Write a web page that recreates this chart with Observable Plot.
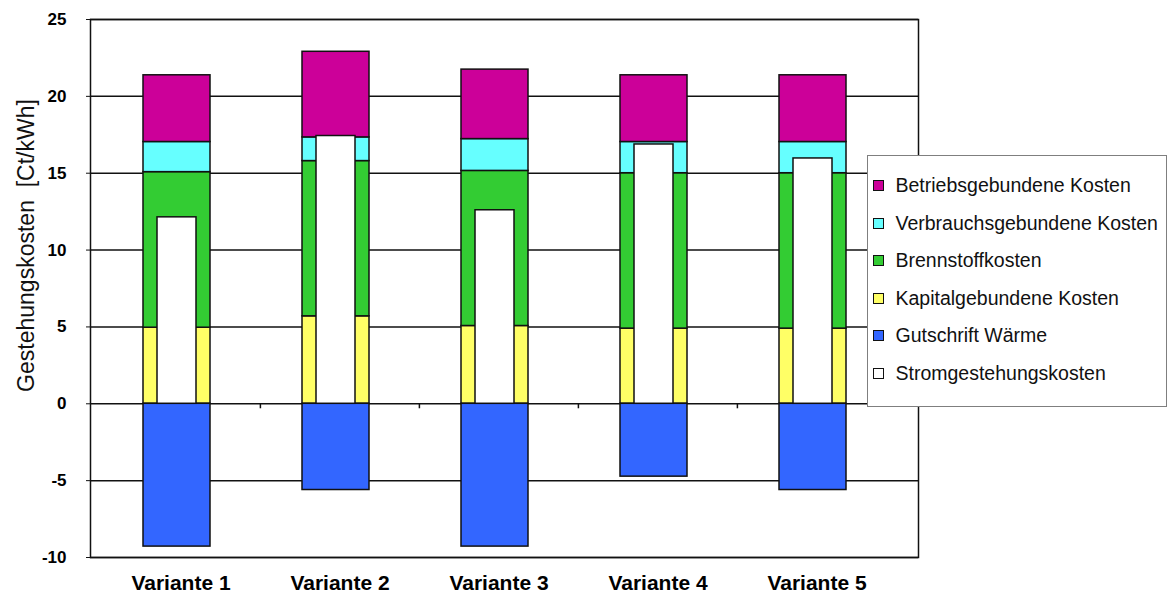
<!DOCTYPE html>
<html>
<head>
<meta charset="utf-8">
<script src="https://cdn.jsdelivr.net/npm/d3@7"></script>
<script src="https://cdn.jsdelivr.net/npm/@observablehq/plot@0.6"></script>
<style>
  body { margin: 0; background: #fff; font-family: "Liberation Sans", Arial, sans-serif; }
  #chart { position: relative; width: 1169px; height: 594px; }
  #legend {
    position: absolute; left: 867px; top: 155px; width: 298px; height: 250px;
    border: 1.5px solid #7f7f7f; background: #fff;
  }
  .item { position: absolute; left: 5px; height: 20px; display: flex; align-items: center;
          font-size: 19.5px; color: #111; white-space: nowrap; }
  .sw { width: 9px; height: 9px; border: 1px solid #111; margin-right: 11.5px; flex: none; }
</style>
</head>
<body>
<div id="chart"></div>
<script>
// Cost components per variant, in Ct/kWh
const categories = ["Variante 1", "Variante 2", "Variante 3", "Variante 4", "Variante 5"];
const kapital    = [4.95, 5.69, 5.06, 4.89, 4.89];
const brennstoff = [10.12, 10.10, 10.09, 10.11, 10.11];
const verbrauch  = [1.96, 1.54, 2.07, 2.03, 2.03];
const betrieb    = [4.34, 5.57, 4.52, 4.34, 4.34];
const gutschrift = [-9.29, -5.61, -9.29, -4.74, -5.61];
const strom      = [12.13, 17.42, 12.59, 16.87, 15.96];
const yTicks = [-10, -5, 0, 5, 10, 15, 20, 25];

const seriesNames = [
  "Betriebsgebundene Kosten",
  "Verbrauchsgebundene Kosten",
  "Brennstoffkosten",
  "Kapitalgebundene Kosten",
  "Gutschrift Wärme",
  "Stromgestehungskosten"
];
const seriesColors = ["#cc0099", "#66ffff", "#33cc33", "#ffff66", "#3366ff", "#ffffff"];

// Stacked components, bottom to top
const stackOrder = [
  "Kapitalgebundene Kosten", "Brennstoffkosten", "Verbrauchsgebundene Kosten",
  "Betriebsgebundene Kosten", "Gutschrift Wärme"
];
const stackValues = [kapital, brennstoff, verbrauch, betrieb, gutschrift];
const stacked = [];
stackOrder.forEach((s, k) => {
  categories.forEach((c, i) => stacked.push({variante: c, serie: s, value: stackValues[k][i]}));
});
const stromRows = categories.map((c, i) => ({variante: c, value: strom[i]}));

const xRange = [100, 896];
const step = (xRange[1] - xRange[0]) / categories.length;
const barShift = -4;

const chart = Plot.plot({
  width: 1169,
  height: 594,
  marginLeft: 90,
  marginRight: 251,
  marginTop: 19,
  marginBottom: 37,
  style: {fontFamily: "'Liberation Sans', Arial, sans-serif", color: "#000", background: "#fff"},
  x: {domain: categories, range: xRange, paddingInner: 0.58, paddingOuter: 0.29, axis: null},
  y: {domain: [-10, 25], axis: null},
  color: {domain: seriesNames, range: seriesColors},
  marks: [
    Plot.ruleY(yTicks, {stroke: "#111", strokeWidth: 1.5}),
    Plot.frame({stroke: "#111", strokeWidth: 1.5}),
    Plot.barY(stacked, {
      x: "variante", y: "value", fill: "serie", order: stackOrder,
      stroke: "#111", strokeWidth: 1.5, dx: barShift
    }),
    Plot.barY(stromRows, {
      x: "variante", y: "value", fill: "#ffffff",
      stroke: "#111", strokeWidth: 1.5, insetLeft: 14, insetRight: 14, dx: barShift
    }),
    // category separators on the zero line
    Plot.ruleX(categories.slice(1), {
      x: d => d, y1: 0, y2: 0, insetBottom: -5, dx: -step / 2, stroke: "#111", strokeWidth: 1.5
    }),
    Plot.axisY({
      ticks: yTicks, tickSize: 4, tickPadding: 20, tickFormat: d => String(d),
      fontSize: 17, fontWeight: "bold", label: null, stroke: "#111"
    }),
    Plot.axisX({
      tickSize: 0, tickPadding: 18, fontSize: 21, fontWeight: "bold", label: null
    }),
    Plot.text(["Gestehungskosten  [Ct/kWh]"], {
      text: d => d, frameAnchor: "left", textAnchor: "middle", rotate: -90, dx: -64, dy: -43,
      fontSize: 23, fill: "#111"
    })
  ]
});

const root = document.getElementById("chart");
root.appendChild(chart);

// Legend box overlapping the right edge of the plot
const legend = document.createElement("div");
legend.id = "legend";
seriesNames.forEach((name, i) => {
  const item = document.createElement("div");
  item.className = "item";
  item.style.top = (19.5 + 37.5 * i) + "px";
  const sw = document.createElement("span");
  sw.className = "sw";
  sw.style.background = seriesColors[i];
  const label = document.createElement("span");
  label.textContent = name;
  item.appendChild(sw);
  item.appendChild(label);
  legend.appendChild(item);
});
root.appendChild(legend);
</script>
</body>
</html>
